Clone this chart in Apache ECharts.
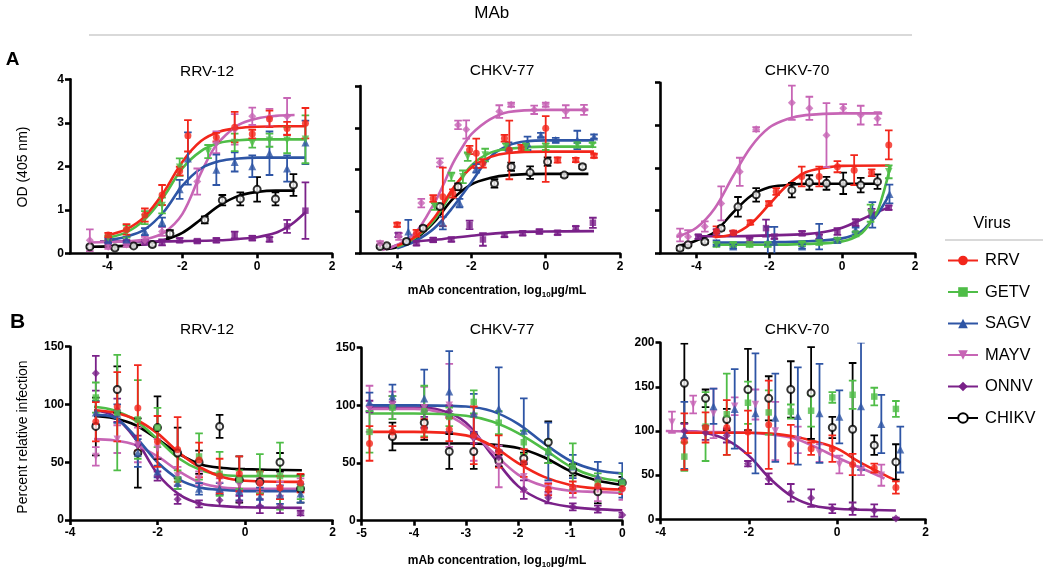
<!DOCTYPE html>
<html><head><meta charset="utf-8">
<script src="https://cdn.jsdelivr.net/npm/echarts@6/dist/echarts.min.js"></script>
<style>html,body{margin:0;padding:0;background:#fff}#c{width:1050px;height:576px}</style>
</head><body><div id="c"></div>
<script>
// ---------- DATA (points: [log10 conc, value, err] or [x, y, errDown, errUp]; fits: [x, y]) ----------
const VIRUSES = ['RRV','GETV','SAGV','MAYV','ONNV','CHIKV'];
const PANEL_TITLES = ['RRV-12','CHKV-77','CHKV-70','RRV-12','CHKV-77','CHKV-70'];
const A_Y_TICKS = [0,1,2,3,4];
const A_X_TICKS = [-4,-2,0,2];

// Panel A1 RRV-12 (OD)
const A1_RRV = [[-3.98,0.42,0.05],[-3.49,0.55,0.12],[-3.0,0.88,0.15],[-2.54,1.34,0.23],[-2.07,1.89,0.1],[-1.85,2.70,0.36],[-1.09,2.67,0.1],[-0.60,2.90,0.35],[-0.13,2.74,0.1],[0.33,3.09,0.19],[0.80,2.87,0.15],[1.29,2.99,0.35]];
const A1_RRV_FIT = [[-4.0,0.42],[-3.5,0.55],[-3.0,0.85],[-2.5,1.4],[-2.0,2.1],[-1.5,2.58],[-1.0,2.8],[-0.5,2.88],[0,2.91],[0.6,2.92],[1.3,2.92]];
const A1_GETV = [[-3.98,0.35,0.05],[-3.49,0.5,0.14],[-3.0,0.82,0.15],[-2.54,1.1,0.18],[-2.07,1.98,0.2],[-1.31,2.34,0.15],[-0.60,2.55,0.2],[-0.13,2.53,0.1],[0.33,2.6,0.15],[0.80,2.6,0.3],[1.29,2.62,0.55]];
const A1_GETV_FIT = [[-4.0,0.36],[-3.5,0.48],[-3.0,0.78],[-2.5,1.3],[-2.0,1.95],[-1.5,2.35],[-1.0,2.54],[-0.5,2.6],[0,2.62],[1.3,2.62]];
const A1_SAGV = [[-3.98,0.3,0.05],[-3.49,0.32,0.05],[-3.0,0.5,0.08],[-2.54,0.72,0.1],[-2.07,1.47,0.22],[-1.85,2.18,0.6],[-1.09,1.92,0.35],[-0.60,2.1,0.22],[-0.13,2.0,0.25],[0.33,2.3,0.5],[0.80,1.95,0.3],[1.29,2.55,0.5]];
const A1_SAGV_FIT = [[-4.0,0.3],[-3.5,0.38],[-3.0,0.55],[-2.5,0.95],[-2.0,1.55],[-1.5,1.95],[-1.0,2.12],[-0.5,2.18],[0,2.2],[1.3,2.2]];
const A1_MAYV = [[-4.47,0.3,0.25],[-3.98,0.15,0.05],[-3.49,0.2,0.05],[-3.0,0.3,0.08],[-2.54,0.5,0.1],[-1.6,1.65,0.3],[-1.09,2.55,0.25],[-0.60,2.85,0.35],[-0.13,3.15,0.2],[0.33,3.12,0.2],[0.80,3.15,0.42]];
const A1_MAYV_FIT = [[-4.5,0.25],[-3.5,0.27],[-3.0,0.32],[-2.5,0.47],[-2.0,0.9],[-1.5,1.85],[-1.2,2.35],[-1.0,2.58],[-0.5,2.95],[0,3.1],[0.5,3.16],[1.0,3.18]];
const A1_ONNV = [[-3.98,0.27,0.03],[-3.49,0.25,0.05],[-3.0,0.25,0.05],[-2.54,0.25,0.07],[-2.07,0.3,0.05],[-1.6,0.28,0.04],[-1.09,0.3,0.05],[-0.60,0.42,0.08],[-0.13,0.35,0.05],[0.33,0.32,0.05],[0.80,0.62,0.15],[1.29,0.98,0.65]];
const A1_ONNV_FIT = [[-4.2,0.27],[-3,0.27],[-2,0.28],[-1,0.3],[-0.5,0.33],[0,0.37],[0.5,0.47],[0.8,0.6],[1.0,0.72],[1.3,0.95]];
const A1_CHIKV = [[-4.47,0.15,0.03],[-3.8,0.12,0.03],[-3.3,0.17,0.03],[-2.8,0.2,0.04],[-2.33,0.45,0.08],[-1.4,0.77,0.08],[-0.93,1.22,0.12],[-0.45,1.25,0.15],[0.0,1.47,0.28],[0.49,1.25,0.15],[0.97,1.57,0.25]];
const A1_CHIKV_FIT = [[-4.5,0.15],[-3.5,0.17],[-3.0,0.21],[-2.5,0.3],[-2.0,0.47],[-1.5,0.78],[-1.0,1.1],[-0.5,1.32],[0,1.41],[0.5,1.44],[1.0,1.44]];

// Panel A2 CHKV-77 (OD)
const A2_RRV = [[-4.0,0.68,0.05],[-3.48,0.48,0.08],[-3.03,1.31,0.08],[-2.77,1.35,0.7],[-2.5,1.43,0.1],[-2.05,2.47,0.1],[-1.87,2.39,0.35],[-1.69,2.15,0.1],[-1.11,2.75,0.08],[-0.98,2.47,0.7],[-0.66,2.51,0.08],[0.0,2.99,1.28,0.29],[0.32,2.23,0.06],[0.81,2.23,0.05],[1.3,2.33,0.05]];
const A2_RRV_FIT = [[-4.0,0.18],[-3.5,0.4],[-3.0,0.85],[-2.5,1.55],[-2.0,2.05],[-1.5,2.3],[-1.0,2.4],[0,2.43],[1.3,2.43]];
const A2_GETV = [[-2.99,1.12,0.08],[-2.54,1.83,0.1],[-2.23,1.83,0.15],[-2.1,2.31,0.1],[-1.63,2.35,0.15],[-1.07,2.55,0.08],[-0.53,2.55,0.08],[0.0,2.55,0.08],[0.85,2.59,0.06],[1.26,2.59,0.05]];
const A2_GETV_FIT = [[-4.0,0.15],[-3.5,0.38],[-3.0,0.8],[-2.5,1.5],[-2.0,2.1],[-1.5,2.4],[-1.0,2.5],[0,2.55],[1.3,2.55]];
const A2_SAGV = [[-3.7,0.52,0.28],[-2.77,0.72,0.15],[-2.32,1.2,0.1],[-1.87,2.03,0.1],[-1.0,2.55,0.1],[-0.49,2.63,0.16],[-0.13,2.83,0.05],[0.27,2.71,0.05],[0.85,2.71,0.22],[1.3,2.79,0.05]];
const A2_SAGV_FIT = [[-4.0,0.12],[-3.5,0.3],[-3.0,0.6],[-2.5,1.1],[-2.0,1.7],[-1.5,2.3],[-1.0,2.58],[-0.5,2.68],[0,2.7],[1.3,2.7]];
const A2_MAYV = [[-4.46,0.24,0.05],[-3.95,0.4,0.08],[-3.35,1.2,0.1],[-2.85,2.17,0.1],[-2.36,3.07,0.1],[-2.14,2.96,0.22],[-1.25,3.39,0.15],[-0.93,3.55,0.05],[-0.31,3.43,0.1],[0.0,3.55,0.05],[0.54,3.39,0.15],[1.03,3.43,0.12]];
const A2_MAYV_FIT = [[-4.4,0.08],[-4.0,0.2],[-3.5,0.5],[-3.0,1.2],[-2.75,1.65],[-2.5,2.15],[-2.2,2.6],[-2.0,2.85],[-1.5,3.2],[-1.0,3.38],[0,3.43],[1.15,3.43]];
const A2_ONNV = [[-3.97,0.44,0.05],[-3.48,0.24,0.05],[-3.03,0.32,0.05],[-2.54,0.33,0.05],[-2.05,0.68,0.1],[-1.69,0.33,0.15],[-1.11,0.44,0.05],[-0.62,0.48,0.05],[-0.17,0.52,0.05],[0.32,0.49,0.05],[0.81,0.6,0.05],[1.27,0.73,0.12]];
const A2_ONNV_FIT = [[-4.2,0.12],[-4.0,0.2],[-3.5,0.28],[-3.0,0.32],[-2.0,0.42],[-1.0,0.5],[0,0.52],[1.3,0.53]];
const A2_CHIKV = [[-4.46,0.16,0.03],[-4.28,0.18,0.03],[-3.75,0.28,0.05],[-3.3,0.6,0.05],[-2.85,1.12,0.05],[-2.36,1.59,0.08],[-1.38,1.67,0.1],[-0.93,2.07,0.1],[-0.42,1.93,0.15],[0.05,2.19,0.1],[0.5,1.87,0.05],[0.99,2.07,0.05]];
const A2_CHIKV_FIT = [[-4.3,0.1],[-4.0,0.15],[-3.5,0.35],[-3.0,0.75],[-2.5,1.3],[-2.0,1.65],[-1.5,1.8],[-1.0,1.87],[0,1.9],[1.15,1.9]];

// Panel A3 CHKV-70 (OD)
const A3_RRV = [[-3.45,0.51,0.12],[-2.99,0.48,0.05],[-2.52,0.72,0.05],[-2.01,1.17,0.05],[-1.81,1.45,0.08],[-1.11,1.8,0.23],[-0.63,1.8,0.23],[-0.13,2.03,0.13],[0.33,1.95,0.35],[0.81,1.89,0.08],[1.28,2.54,0.34]];
const A3_RRV_FIT = [[-3.5,0.38],[-3.0,0.45],[-2.5,0.7],[-2.0,1.15],[-1.5,1.6],[-1.0,1.9],[-0.5,2.0],[0,2.05],[1.3,2.06]];
const A3_GETV = [[-3.45,0.2,0.05],[-2.99,0.2,0.05],[-2.54,0.2,0.05],[-2.04,0.2,0.05],[-1.1,0.22,0.05],[-0.63,0.25,0.05],[-0.13,0.3,0.05],[0.37,0.45,0.05],[0.78,0.94,0.2],[1.28,1.91,0.15]];
const A3_GETV_FIT = [[-3.5,0.2],[-2.0,0.2],[-1.0,0.22],[0,0.28],[0.5,0.45],[0.8,0.75],[1.0,1.05],[1.33,2.05]];
const A3_SAGV = [[-3.45,0.25,0.05],[-2.99,0.16,0.05],[-2.04,0.27,0.35],[-1.86,0.27,0.35],[-1.1,0.16,0.05],[-0.63,0.39,0.3],[-0.13,0.31,0.05],[0.37,0.55,0.05],[0.83,0.9,0.3],[1.3,1.39,0.22]];
const A3_SAGV_FIT = [[-3.5,0.25],[-2.0,0.26],[-1.0,0.28],[0,0.35],[0.5,0.5],[0.8,0.75],[1.0,0.95],[1.3,1.38]];
const A3_MAYV = [[-4.45,0.43,0.15],[-4.23,0.39,0.15],[-3.77,0.63,0.12],[-3.32,1.17,0.4],[-2.81,1.91,0.33],[-2.36,2.91,0.05],[-1.38,3.53,0.4],[-0.9,3.4,0.27],[-0.43,2.77,0.75],[0.03,3.4,0.1],[0.51,3.24,0.22],[0.97,3.16,0.15]];
const A3_MAYV_FIT = [[-4.55,0.38],[-4.0,0.6],[-3.5,1.05],[-3.0,1.8],[-2.5,2.5],[-2.0,2.95],[-1.5,3.15],[-1.0,3.24],[0,3.28],[1.1,3.28]];
const A3_ONNV = [[-3.95,0.39,0.05],[-3.45,0.51,0.05],[-2.99,0.47,0.05],[-2.54,0.31,0.05],[-2.09,0.59,0.2],[-1.86,0.39,0.05],[-1.1,0.47,0.05],[-0.63,0.39,0.05],[-0.13,0.51,0.08],[0.37,0.72,0.08],[0.81,0.94,0.1],[1.28,1.07,0.05]];
const A3_ONNV_FIT = [[-4.0,0.4],[-3.0,0.4],[-2.0,0.42],[-1.0,0.45],[-0.5,0.5],[0,0.6],[0.5,0.78],[1.0,0.98],[1.3,1.08]];
const A3_CHIKV = [[-4.45,0.12,0.05],[-4.23,0.2,0.03],[-3.77,0.27,0.04],[-3.32,0.59,0.05],[-2.86,1.09,0.23],[-2.36,1.37,0.16],[-1.38,1.48,0.17],[-0.9,1.66,0.17],[-0.43,1.64,0.15],[0.03,1.64,0.25],[0.51,1.6,0.17],[0.97,1.68,0.17]];
const A3_CHIKV_FIT = [[-4.45,0.18],[-4.0,0.3],[-3.5,0.5],[-3.0,0.95],[-2.5,1.35],[-2.0,1.55],[-1.5,1.6],[-1.0,1.63],[0,1.63],[1.0,1.63]];

// Panel B1 RRV-12 (% infection)
const B1_RRV = [[-3.41,85,17],[-2.92,98,30],[-2.45,97,37],[-2.0,68,22],[-1.54,61,28],[-1.05,52,15],[-0.58,38,15],[-0.13,40,15],[0.34,32,10],[0.80,28,10],[1.27,32,8]];
const B1_RRV_FIT = [[-3.45,95],[-3.0,93],[-2.5,87],[-2.0,75],[-1.5,58],[-1.0,45],[-0.5,37],[0,34],[1.3,33]];
const B1_GETV = [[-3.41,106,13],[-2.92,93,50],[-2.45,87,34],[-2.0,80,17],[-1.54,35,8],[-1.05,55,20],[-0.58,40,19],[-0.13,35,8],[0.34,40,17],[0.80,38,29],[1.27,28,10]];
const B1_GETV_FIT = [[-3.45,98],[-3.0,95],[-2.5,86],[-2.0,70],[-1.5,53],[-1.0,43],[-0.5,39],[0,38],[1.3,38]];
const B1_SAGV = [[-3.41,93,10],[-2.92,92,8],[-2.45,58,12],[-2.0,42,5],[-1.54,32,5],[-1.05,27,5],[-0.58,27,5],[-0.13,25,8],[0.34,20,8],[0.80,22,8],[1.27,23,8]];
const B1_SAGV_FIT = [[-3.45,91],[-3.0,89],[-2.5,72],[-2.0,50],[-1.5,35],[-1.0,28],[-0.5,26],[0,25],[1.3,25]];
const B1_MAYV = [[-3.41,55,8],[-2.92,70,12],[-2.45,65,15],[-2.0,62,8],[-1.54,38,8],[-1.05,36,6],[-0.58,30,6],[-0.13,30,6],[0.34,30,6],[0.80,27,6],[1.27,30,6]];
const B1_MAYV_FIT = [[-3.45,70],[-3.0,69],[-2.5,65],[-2.0,55],[-1.5,42],[-1.0,32],[-0.5,28],[0,27],[1.3,27]];
const B1_ONNV = [[-3.41,127,15],[-2.92,95,10],[-2.45,65,8],[-2.0,38,4],[-1.54,18,4],[-1.05,14,3],[-0.58,17,5],[-0.13,16,5],[0.34,12,6],[0.80,12,6],[1.27,6,2]];
const B1_ONNV_FIT = [[-3.45,95],[-3.0,90],[-2.5,70],[-2.0,40],[-1.5,22],[-1.0,14],[-0.5,12],[0,11],[1.3,10.5]];
const B1_CHIKV = [[-3.41,81,25],[-2.92,113,20],[-2.45,58,30],[-2.0,80,27],[-1.54,58,22],[-1.05,50,10],[-0.58,81,10],[-0.13,35,20],[0.34,33,10],[0.80,50,8],[1.27,27,12]];
const B1_CHIKV_FIT = [[-3.45,90],[-3.0,88],[-2.5,82],[-2.0,70],[-1.5,57],[-1.0,48],[-0.5,45],[0,44],[1.3,43]];

// Panel B2 CHKV-77 (% infection)
const B2_RRV = [[-4.85,67,15],[-4.41,77,5],[-3.80,80,8],[-3.32,79,10],[-2.85,74,25],[-2.37,60,14],[-1.89,50,12],[-1.42,27,5],[-0.95,29,5],[-0.47,30,5],[0,28,5]];
const B2_RRV_FIT = [[-4.85,77],[-4.0,77],[-3.0,74],[-2.5,65],[-2.0,50],[-1.5,38],[-1.0,31],[-0.5,28],[0,27]];
const B2_GETV = [[-4.85,77,18],[-4.41,98,10],[-3.80,95,22],[-3.32,90,8],[-2.85,103,10],[-2.37,85,10],[-1.89,68,10],[-1.42,60,10],[-0.95,47,20],[-0.47,33,8],[0,33,8]];
const B2_GETV_FIT = [[-4.85,93],[-4.0,93],[-3.0,91],[-2.5,86],[-2.0,76],[-1.5,62],[-1.0,47],[-0.5,38],[0,34]];
const B2_SAGV = [[-4.85,103,8],[-4.41,108,10],[-3.80,106,25],[-3.32,112,35],[-2.85,93,17],[-2.37,97,36],[-1.89,78,28],[-1.42,60,25],[-0.95,47,10],[-0.47,38,13],[0,35,15]];
const B2_SAGV_FIT = [[-4.85,100],[-4.0,100],[-3.0,99],[-2.5,95],[-2.0,84],[-1.5,67],[-1.0,52],[-0.5,44],[0,41]];
const B2_MAYV = [[-4.85,97,20],[-4.41,100,12],[-3.80,98,18],[-3.32,100,36],[-2.85,72,20],[-2.37,47,18],[-1.89,38,13],[-1.42,28,5],[-0.95,25,5],[-0.47,27,10],[0,26,8]];
const B2_MAYV_FIT = [[-4.85,97],[-4.0,97],[-3.5,94],[-3.0,82],[-2.5,60],[-2.0,40],[-1.5,30],[-1.0,26],[-0.5,25],[0,24]];
const B2_ONNV = [[-4.85,99,5],[-4.41,103,5],[-3.80,95,5],[-3.32,95,5],[-2.85,72,5],[-2.37,55,5],[-1.89,27,8],[-1.42,20,5],[-0.95,12,3],[-0.47,10,3],[0,5,2]];
const B2_ONNV_FIT = [[-4.85,98],[-4.0,98],[-3.5,96],[-3.0,85],[-2.5,57],[-2.0,30],[-1.5,17],[-1.0,12],[-0.5,10],[0,9]];
const B2_CHIKV = [[-4.41,73,12],[-3.80,85,15],[-3.32,60,15],[-2.85,60,15],[-2.37,52,5],[-1.89,54,5],[-1.42,68,18],[-0.95,44,5],[-0.47,25,10],[0,33,5]];
const B2_CHIKV_FIT = [[-4.41,67],[-4.0,67],[-3.0,67],[-2.5,66],[-2.0,63],[-1.5,55],[-1.0,43],[-0.5,35],[0,31]];

// Panel B3 CHKV-70 (% infection)
const B3_RRV = [[-3.46,88,32],[-2.98,104,17],[-2.5,104,31],[-2.02,99,24],[-1.55,107,50],[-1.05,85,22],[-0.59,80,7],[-0.11,80,15],[0.35,62,12],[0.84,58,5],[1.33,36,7]];
const B3_RRV_FIT = [[-3.46,98],[-2.5,98],[-2.0,98],[-1.5,97],[-1.0,94],[-0.5,88],[0,80],[0.5,65],[1.0,52],[1.37,43]];
const B3_GETV = [[-3.46,71,16],[-2.98,105,39],[-2.5,119,46],[-2.02,132,24],[-1.55,121,25],[-1.05,122,8],[-0.59,123,18],[-0.11,138,6],[0.35,141,16],[0.84,139,10],[1.33,125,9]];
const B3_SAGV = [[-3.46,95,38],[-2.80,128,20],[-2.32,125,45],[-1.85,120,68],[-1.40,115,50],[-0.89,117,55],[-0.40,120,56],[0.05,116,30],[0.54,128,72],[1.0,108,33],[1.43,79,26]];
const B3_MAYV = [[-3.74,110,12],[-3.26,130,10],[-2.80,120,28],[-2.32,128,10],[-1.85,130,17],[-1.40,100,33],[-0.89,90,15],[-0.40,75,10],[0.05,62,10],[0.54,55,5],[1.0,50,12]];
const B3_MAYV_FIT = [[-3.88,100],[-3.0,99],[-2.0,98],[-1.5,96],[-1.0,92],[-0.5,82],[0,70],[0.5,59],[1.0,48],[1.07,46]];
const B3_ONNV = [[-3.46,100,8],[-2.98,98,8],[-2.5,95,8],[-2.02,63,3],[-1.55,46,6],[-1.05,30,10],[-0.59,24,10],[-0.11,12,5],[0.35,12,7],[0.84,10,7],[1.33,1,1]];
const B3_ONNV_FIT = [[-3.46,100],[-3.0,98],[-2.5,90],[-2.0,72],[-1.5,45],[-1.0,25],[-0.5,15],[0,12],[0.5,11],[1.33,10]];
const B3_CHIKV = [[-3.46,154,45],[-2.98,137,10],[-2.5,113,12],[-2.02,147,46],[-1.55,137,25],[-1.05,147,32],[-0.59,143,52],[-0.11,104,12],[0.35,102,90,75],[0.84,84,11],[1.33,65,20]];

// ---------- STYLE ----------
const FONT = "'Liberation Sans', Arial, sans-serif";
const COLORS = {RRV:'#f2261b', GETV:'#4fbd47', SAGV:'#2e55a5', MAYV:'#c765b5', ONNV:'#7a2189', CHIKV:'#000000'};
const TRI_DOWN = 'path://M0,0L10,0L5,8.7Z';
const SYM_A = {RRV:'circle', GETV:TRI_DOWN, SAGV:'triangle', MAYV:'diamond', ONNV:'rect', CHIKV:'emptyCircle'};
const SYM_B = {RRV:'circle', GETV:'rect', SAGV:'triangle', MAYV:TRI_DOWN, ONNV:'diamond', CHIKV:'emptyCircle'};
const SYM_SIZE = {circle:7, rect:6.5, triangle:8, diamond:8, emptyCircle:7};
const DRAW_ORDER = ['CHIKV','ONNV','MAYV','SAGV','GETV','RRV'];

const PANELS = [
  {grid:{left:70,top:79.3,width:262,height:174}, x:{min:-5,max:2,custom:A_X_TICKS}, y:{min:0,max:4,interval:1,labels:true}, sym:SYM_A,
   s:{RRV:[A1_RRV,A1_RRV_FIT],GETV:[A1_GETV,A1_GETV_FIT],SAGV:[A1_SAGV,A1_SAGV_FIT],MAYV:[A1_MAYV,A1_MAYV_FIT],ONNV:[A1_ONNV,A1_ONNV_FIT],CHIKV:[A1_CHIKV,A1_CHIKV_FIT]}},
  {grid:{left:360,top:86,width:260,height:167.3}, x:{min:-5,max:2,custom:A_X_TICKS}, y:{min:0,max:4,interval:1,labels:false}, sym:SYM_A,
   s:{RRV:[A2_RRV,A2_RRV_FIT],GETV:[A2_GETV,A2_GETV_FIT],SAGV:[A2_SAGV,A2_SAGV_FIT],MAYV:[A2_MAYV,A2_MAYV_FIT],ONNV:[A2_ONNV,A2_ONNV_FIT],CHIKV:[A2_CHIKV,A2_CHIKV_FIT]}},
  {grid:{left:660,top:82.7,width:255,height:170.6}, x:{min:-5,max:2,custom:A_X_TICKS}, y:{min:0,max:4,interval:1,labels:false}, sym:SYM_A,
   s:{RRV:[A3_RRV,A3_RRV_FIT],GETV:[A3_GETV,A3_GETV_FIT],SAGV:[A3_SAGV,A3_SAGV_FIT],MAYV:[A3_MAYV,A3_MAYV_FIT],ONNV:[A3_ONNV,A3_ONNV_FIT],CHIKV:[A3_CHIKV,A3_CHIKV_FIT]}},
  {grid:{left:70,top:346.7,width:262.5,height:173.3}, x:{min:-4,max:2,interval:2}, y:{min:0,max:150,interval:50,labels:true}, sym:SYM_B,
   s:{RRV:[B1_RRV,B1_RRV_FIT],GETV:[B1_GETV,B1_GETV_FIT],SAGV:[B1_SAGV,B1_SAGV_FIT],MAYV:[B1_MAYV,B1_MAYV_FIT],ONNV:[B1_ONNV,B1_ONNV_FIT],CHIKV:[B1_CHIKV,B1_CHIKV_FIT]}},
  {grid:{left:361.7,top:347.7,width:260.6,height:173}, x:{min:-5,max:0,interval:1}, y:{min:0,max:150,interval:50,labels:true}, sym:SYM_B,
   s:{RRV:[B2_RRV,B2_RRV_FIT],GETV:[B2_GETV,B2_GETV_FIT],SAGV:[B2_SAGV,B2_SAGV_FIT],MAYV:[B2_MAYV,B2_MAYV_FIT],ONNV:[B2_ONNV,B2_ONNV_FIT],CHIKV:[B2_CHIKV,B2_CHIKV_FIT]}},
  {grid:{left:660.5,top:342.7,width:265,height:176.6}, x:{min:-4,max:2,interval:2}, y:{min:0,max:200,interval:50,labels:true}, sym:SYM_B,
   s:{RRV:[B3_RRV,B3_RRV_FIT],GETV:[B3_GETV,null],SAGV:[B3_SAGV,null],MAYV:[B3_MAYV,B3_MAYV_FIT],ONNV:[B3_ONNV,B3_ONNV_FIT],CHIKV:[B3_CHIKV,null]}}
];

// ---------- BUILD ----------
const grids = [], xAxes = [], yAxes = [], series = [];
const AXW = 2.6;
PANELS.forEach((p, i) => {
  grids.push(Object.assign({containLabel:false}, p.grid));
  const xa = {gridIndex:i, type:'value', min:p.x.min, max:p.x.max,
    axisLine:{onZero:false, lineStyle:{color:'#000', width:AXW}},
    axisTick:{length:5, lineStyle:{color:'#000', width:AXW}},
    axisLabel:{color:'#000', fontWeight:'bold', fontSize:12, fontFamily:FONT, margin:7},
    splitLine:{show:false}};
  if (p.x.custom) { xa.interval = 1; xa.axisTick.customValues = p.x.custom; xa.axisLabel.customValues = p.x.custom; }
  else xa.interval = p.x.interval;
  xAxes.push(xa);
  yAxes.push({gridIndex:i, type:'value', min:p.y.min, max:p.y.max, interval:p.y.interval,
    axisLine:{show:true, onZero:false, lineStyle:{color:'#000', width:AXW}},
    axisTick:{show:true, length:5, lineStyle:{color:'#000', width:AXW}},
    axisLabel:{show:p.y.labels, color:'#000', fontWeight:'bold', fontSize:12, fontFamily:FONT, margin:6},
    splitLine:{show:false}});
  DRAW_ORDER.forEach(v => {
    const pair = p.s[v]; const pts = pair[0], fit = pair[1];
    const col = COLORS[v];
    if (fit) series.push({type:'line', name:v+' fit '+i, xAxisIndex:i, yAxisIndex:i, data:fit, smooth:0.35,
      showSymbol:false, silent:true, z:2, lineStyle:{color:col, width:2.6}, animation:false});
    series.push({type:'custom', name:v+' err '+i, xAxisIndex:i, yAxisIndex:i, z:3, clip:true, animation:false,
      data: pts.map(d => [d[0], d[1], d[2], d.length > 3 ? d[3] : d[2]]),
      encode:{x:0, y:1},
      renderItem:(params, api) => {
        const x = api.value(0), y = api.value(1), lo = api.value(2), hi = api.value(3);
        const a = api.coord([x, y - lo]), b = api.coord([x, y + hi]);
        const w = 3.8, st = {stroke:col, lineWidth:1.8};
        return {type:'group', children:[
          {type:'line', shape:{x1:a[0], y1:a[1], x2:b[0], y2:b[1]}, style:st},
          {type:'line', shape:{x1:a[0]-w, y1:a[1], x2:a[0]+w, y2:a[1]}, style:st},
          {type:'line', shape:{x1:b[0]-w, y1:b[1], x2:b[0]+w, y2:b[1]}, style:st}
        ]};
      }});
    const sym = p.sym[v];
    series.push({type:'scatter', name:v+' pts '+i, xAxisIndex:i, yAxisIndex:i, z:4, animation:false,
      data: pts.map(d => [d[0], d[1]]), symbol:sym, symbolSize: SYM_SIZE[sym] || 7.5,
      itemStyle: v === 'CHIKV' ? {color:'#000', borderColor:'#000', borderWidth:1.8} : {color:col}});
  });
});
// legend carriers (no data)
VIRUSES.forEach(v => {
  const sym = SYM_B[v];
  series.push({type:'line', name:v, xAxisIndex:0, yAxisIndex:0, data:[], symbol:sym, symbolSize:SYM_SIZE[sym] || 8,
    lineStyle:{color:COLORS[v], width:2.4}, itemStyle: v === 'CHIKV' ? {color:'#000', borderWidth:1.8} : {color:COLORS[v]}});
});

const T = (text, x, y, font, extra) => Object.assign({type:'text', x, y, silent:true,
  style:{text, x:0, y:0, align:'center', verticalAlign:'middle', font, fill:'#000'}}, extra || {});
const axisTitleStyle = {
  rich:{a:{fontFamily:FONT, fontSize:12, fontWeight:'bold', fill:'#000'}, s:{fontFamily:FONT, fontSize:8, fontWeight:'bold', fill:'#000', padding:[7,0,0,0]}}
};
const graphic = [
  T('MAb', 491.7, 13.5, '17px '+FONT),
  {type:'line', silent:true, shape:{x1:89, y1:35, x2:912, y2:35}, style:{stroke:'#cccccc', lineWidth:1.6}},
  T('A', 12.5, 60, 'bold 19px '+FONT),
  T('B', 17.5, 322, 'bold 21px '+FONT),
  T(PANEL_TITLES[0], 207, 72, '15.5px '+FONT),
  T(PANEL_TITLES[1], 502, 71, '15.5px '+FONT),
  T(PANEL_TITLES[2], 797, 71, '15.5px '+FONT),
  T(PANEL_TITLES[3], 207, 330, '15.5px '+FONT),
  T(PANEL_TITLES[4], 502, 330, '15.5px '+FONT),
  T(PANEL_TITLES[5], 797, 330, '15.5px '+FONT),
  T('OD (405 nm)', 23, 167, '14px '+FONT, {rotation:Math.PI/2}),
  T('Percent relative infection', 23, 437, '14px '+FONT, {rotation:Math.PI/2}),
  {type:'text', x:497, y:291, silent:true, style:Object.assign({text:'{a|mAb concentration, log}{s|10}{a|\u00b5g/mL}', align:'center', verticalAlign:'middle'}, axisTitleStyle)},
  {type:'text', x:497, y:561, silent:true, style:Object.assign({text:'{a|mAb concentration, log}{s|10}{a|\u00b5g/mL}', align:'center', verticalAlign:'middle'}, axisTitleStyle)},
  T('Virus', 992, 223, '16.5px '+FONT),
  {type:'line', silent:true, shape:{x1:945, y1:240, x2:1043, y2:240}, style:{stroke:'#cccccc', lineWidth:1.6}}
];

const chart = echarts.init(document.getElementById('c'), null, {renderer:'canvas'});
chart.setOption({
  animation:false,
  backgroundColor:'#ffffff',
  grid:grids, xAxis:xAxes, yAxis:yAxes, series,
  legend:{data:VIRUSES, orient:'vertical', left:942, top:247, itemWidth:30, itemHeight:12, itemGap:14.5,
    selectedMode:false, textStyle:{fontFamily:FONT, fontSize:16.5, color:'#000', padding:[0,0,0,2]}},
  graphic
});
</script></body></html>
